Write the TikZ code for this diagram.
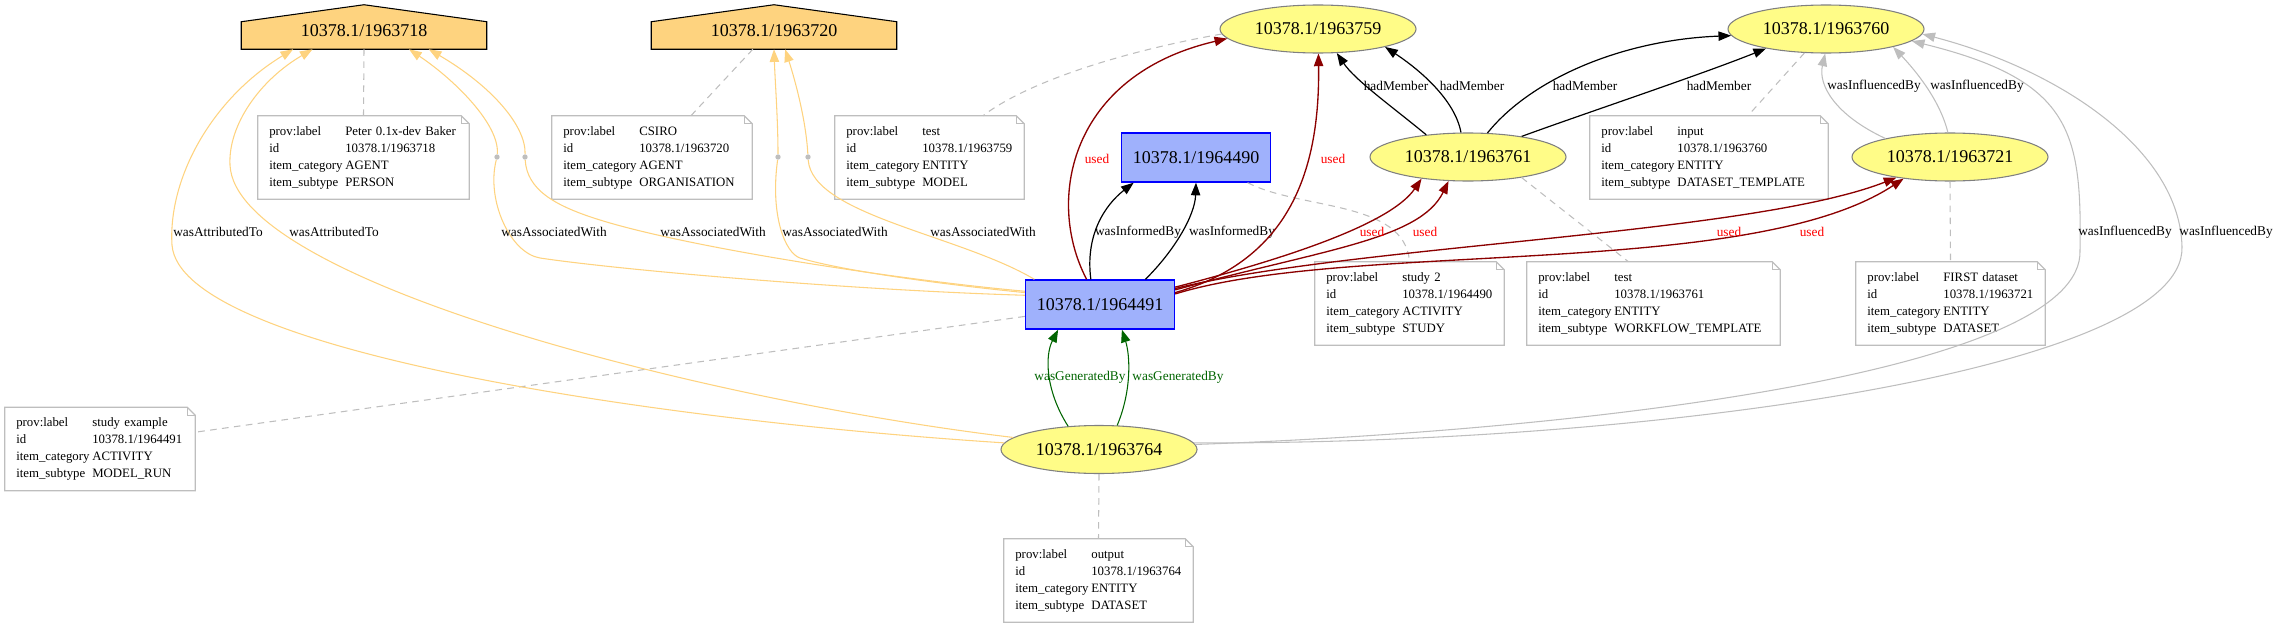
\documentclass[tikz,border=0pt]{standalone}
\usepackage{fontspec}
\setmainfont{Liberation Serif}
\usetikzlibrary{shapes.geometric,arrows.meta,backgrounds}

\definecolor{agentfill}{HTML}{FED37F}
\definecolor{activityfill}{HTML}{9FB1FC}
\definecolor{entityfill}{HTML}{FFFC87}
\definecolor{entityline}{HTML}{808080}
\definecolor{provgray}{HTML}{BEBEBE}
\definecolor{usedred}{HTML}{8B0000}
\definecolor{gendarkgreen}{HTML}{006400}

\newcommand{\provtable}[4]{\begin{tabular}{@{}p{57pt}@{}l@{}}prov:label & #1\\ id & #2\\ item\_category & #3\\ item\_subtype & #4\end{tabular}}

\tikzset{
  entity/.style={ellipse, draw=entityline, fill=entityfill, line width=0.8pt, minimum width=147pt, minimum height=36pt, inner sep=0pt, font=\fontsize{13.5pt}{16pt}\selectfont},
  activity/.style={rectangle, draw=blue, fill=activityfill, line width=1pt, minimum width=111.75pt, minimum height=36.75pt, inner sep=0pt, font=\fontsize{13.5pt}{16pt}\selectfont},
  agent/.style={rectangle, minimum width=183.75pt, minimum height=20.25pt, inner sep=1pt, text depth=7pt, font=\fontsize{13.5pt}{16pt}\selectfont},
  agentline/.style={draw=black, fill=agentfill, line width=0.8pt},
  provnote/.style={rectangle, text width=#1, align=left, inner xsep=8.5pt, inner ysep=0pt, minimum height=62.25pt, font=\fontsize{9.6pt}{12.75pt}\selectfont},
  noteline/.style={draw=provgray, line width=0.9pt},
  notelink/.style={draw=provgray, line width=0.8pt, dash pattern=on 5pt off 4pt},
  bnode/.style={circle, fill=provgray, inner sep=0pt, minimum size=4pt},
  edgelabel/.style={inner sep=1pt, font=\fontsize{10pt}{12pt}\selectfont},
  usedlabel/.style={edgelabel, text=red},
  genlabel/.style={edgelabel, text=gendarkgreen},
  arr/.style={-{Triangle[length=9.5pt,width=7pt]}},
  attrib/.style={draw=agentfill, line width=0.8pt},
  assoc/.style={draw=agentfill, line width=0.8pt},
  inform/.style={draw=black, line width=0.9pt, arr},
  used/.style={draw=usedred, line width=1pt, arr},
  member/.style={draw=black, line width=0.9pt, arr},
  influence/.style={draw=provgray, line width=0.8pt, arr},
  generated/.style={draw=gendarkgreen, line width=0.8pt, arr}
}

\begin{document}
\begin{tikzpicture}[x=0.75pt, y=-0.75pt]
  \useasboundingbox (0,0) rectangle (2278,628);

  % agents, entities, activities
  \node[agent] (a1718) at (364,35.5) {10378.1/1963718};
  \node[agent] (a1720) at (774,35.5) {10378.1/1963720};
  \begin{scope}[on background layer]
    \foreach \ag in {a1718,a1720}
      \filldraw[agentline] (\ag.south west) -- (\ag.north west) -- ([yshift=12.75pt]\ag.north) -- (\ag.north east) -- (\ag.south east) -- cycle;
  \end{scope}

  \node[entity] (e1759) at (1318,29) {10378.1/1963759};
  \node[entity] (e1760) at (1826,29) {10378.1/1963760};
  \node[entity] (e1761) at (1468,157) {10378.1/1963761};
  \node[entity] (e1721) at (1950,157) {10378.1/1963721};
  \node[entity] (e1764) at (1099,449.5) {10378.1/1963764};

  \node[activity] (b1964490) at (1196,157.5) {10378.1/1964490};
  \node[activity] (b1964491) at (1100,304.5) {10378.1/1964491};

  \node[bnode] (p1) at (497,157) {};
  \node[bnode] (p2) at (525,157) {};
  \node[bnode] (p3) at (778,157) {};
  \node[bnode] (p4) at (808,157) {};

  % notes
  \node[provnote=141.25pt] (n1718) at (363.5,157.5) {\provtable{Peter 0.1x-dev Baker}{10378.1/1963718}{AGENT}{PERSON}};
  \node[provnote=133pt] (n1720) at (652,157.5) {\provtable{CSIRO}{10378.1/1963720}{AGENT}{ORGANISATION}};
  \node[provnote=124.75pt] (n1759) at (929.5,157.5) {\provtable{test}{10378.1/1963759}{ENTITY}{MODEL}};
  \node[provnote=161.5pt] (n1760) at (1709,157.5) {\provtable{input}{10378.1/1963760}{ENTITY}{DATASET\_TEMPLATE}};
  \node[provnote=124.75pt] (n1964490) at (1409.5,303.5) {\provtable{study 2}{10378.1/1964490}{ACTIVITY}{STUDY}};
  \node[provnote=172.75pt] (n1761) at (1653.5,303.5) {\provtable{test}{10378.1/1963761}{ENTITY}{WORKFLOW\_TEMPLATE}};
  \node[provnote=124.75pt] (n1721) at (1950.5,303.5) {\provtable{FIRST dataset}{10378.1/1963721}{ENTITY}{DATASET}};
  \node[provnote=125.5pt] (n1964491) at (100,449) {\provtable{study example}{10378.1/1964491}{ACTIVITY}{MODEL\_RUN}};
  \node[provnote=124.75pt] (n1764) at (1098.5,580.5) {\provtable{output}{10378.1/1963764}{ENTITY}{DATASET}};
  \foreach \nt in {n1718,n1720,n1759,n1760,n1964490,n1761,n1721,n1964491,n1764} {
    \draw[noteline] (\nt.south west) -- (\nt.north west) -- ([xshift=-6pt]\nt.north east) -- ([yshift=-6pt]\nt.north east) -- (\nt.south east) -- cycle;
    \draw[noteline] ([xshift=-6pt]\nt.north east) |- ([yshift=-6pt]\nt.north east);
  }

  % note links
  \draw[notelink] (a1718.south) -- (n1718.north);
  \draw[notelink] (a1720.213) -- (n1720.47);
  \draw[notelink] (e1759.183) .. controls (1130,50) and (1030,80) .. (n1759.38);
  \draw[notelink] (e1760.228) -- (n1760.47);
  \draw[notelink] (e1761.339) -- (n1761.121);
  \draw[notelink] (b1964490.334) .. controls (1300,210) and (1405,200) .. (n1964490.north);
  \draw[notelink] (e1721.south) -- (n1721.north);
  \draw[notelink] (b1964491.189) -- (n1964491.10);
  \draw[notelink] (e1764.south) -- (n1764.north);

  % wasAttributedTo
  \draw[attrib,arr] (e1764.176) .. controls (650,420) and (180,350) .. (172,245) .. controls (168,180) and (210,100) .. (a1718.191);
  \draw[attrib,arr] (e1764.172) .. controls (700,400) and (235,280) .. (230,165) .. controls (228,125) and (260,80) .. (a1718.195);
  \node[edgelabel] (attr1) at (218,232) {wasAttributedTo};
  \node[edgelabel] (attr2) at (334,232) {wasAttributedTo};

  % wasAssociatedWith
  \draw[assoc] (b1964491.173) .. controls (850,290) and (620,270) .. (540,258) .. controls (510,253) and (486,200) .. (p1);
  \draw[assoc,arr] (p1) .. controls (500,125) and (455,80) .. (a1718.343);
  \draw[assoc] (b1964491.170) .. controls (900,280) and (690,248) .. (600,220) .. controls (555,206) and (527,190) .. (p2);
  \draw[assoc,arr] (p2) .. controls (526,125) and (490,85) .. (a1718.348);
  \draw[assoc] (b1964491.171) .. controls (930,283) and (840,270) .. (800,258) .. controls (785,253) and (770,215) .. (p3);
  \draw[assoc,arr] (p3) .. controls (778,120) and (775,80) .. (a1720.270);
  \draw[assoc] (b1964491.159) .. controls (960,235) and (812,215) .. (p4);
  \draw[assoc,arr] (p4) .. controls (806,120) and (795,80) .. (a1720.309);
  \node[edgelabel] (assoc1) at (554,232) {wasAssociatedWith};
  \node[edgelabel] (assoc2) at (713,232) {wasAssociatedWith};
  \node[edgelabel] (assoc3) at (835,232) {wasAssociatedWith};
  \node[edgelabel] (assoc4) at (983,232) {wasAssociatedWith};

  % wasInformedBy
  \draw[inform] (b1964491.110) .. controls (1085,235) and (1105,205) .. (b1964490.202);
  \draw[inform] (b1964491.29) .. controls (1175,250) and (1195,215) .. (b1964490.270);
  \node[edgelabel] (inf1) at (1138,232) {wasInformedBy};
  \node[edgelabel] (inf2) at (1232,232) {wasInformedBy};

  % used
  \draw[used] (b1964491.118) .. controls (1045,200) and (1070,75) .. (e1759.186);
  \draw[used] (b1964491.9) .. controls (1290,260) and (1320,170) .. (e1759.271);
  \draw[used] (b1964491.13) .. controls (1280,260) and (1390,225) .. (e1761.205);
  \draw[used] (b1964491.11) .. controls (1320,250) and (1420,240) .. (e1761.231);
  \draw[used] (b1964491.12) .. controls (1350,245) and (1750,235) .. (e1721.201);
  \draw[used] (b1964491.8) .. controls (1350,240) and (1750,280) .. (e1721.205);
  \node[usedlabel] (used1) at (1097,159) {used};
  \node[usedlabel] (used2) at (1333,159) {used};
  \node[usedlabel] (used3) at (1372,232) {used};
  \node[usedlabel] (used4) at (1425,232) {used};
  \node[usedlabel] (used5) at (1729,232) {used};
  \node[usedlabel] (used6) at (1812,232) {used};

  % hadMember
  \draw[member] (e1761.152) .. controls (1390,105) and (1355,80) .. (e1759.308);
  \draw[member] (e1761.106) .. controls (1455,100) and (1420,70) .. (e1759.345);
  \draw[member] (e1761.51) .. controls (1530,80) and (1620,40) .. (e1760.184);
  \draw[member] (e1761.21) .. controls (1580,115) and (1700,75) .. (e1760.198);
  \node[edgelabel] (mem1) at (1396,86) {hadMember};
  \node[edgelabel] (mem2) at (1472,86) {hadMember};
  \node[edgelabel] (mem3) at (1585,86) {hadMember};
  \node[edgelabel] (mem4) at (1719,86) {hadMember};

  % wasInfluencedBy
  \draw[influence] (e1721.164) .. controls (1835,115) and (1818,85) .. (e1760.268);
  \draw[influence] (e1721.95) .. controls (1940,100) and (1915,70) .. (e1760.345);
  \draw[influence] (e1764.3) .. controls (1600,430) and (2085,370) .. (2080,250) .. controls (2082,130) and (2070,80) .. (e1760.352);
  \draw[influence] (e1764.4) .. controls (1650,445) and (2185,370) .. (2182,247) .. controls (2180,150) and (2060,70) .. (e1760.357);
  \node[edgelabel] (infl1) at (1874,86) {wasInfluencedBy};
  \node[edgelabel] (infl2) at (1977,86) {wasInfluencedBy};
  \node[edgelabel] (infl3) at (2125,232) {wasInfluencedBy};
  \node[edgelabel] (infl4) at (2226,232) {wasInfluencedBy};

  % wasGeneratedBy
  \draw[generated] (e1764.143) .. controls (1045,390) and (1045,355) .. (b1964491.211);
  \draw[generated] (e1764.53) .. controls (1132,390) and (1130,355) .. (b1964491.311);
  \node[genlabel] (gen1) at (1080,377) {wasGeneratedBy};
  \node[genlabel] (gen2) at (1178,377) {wasGeneratedBy};
\end{tikzpicture}
\end{document}
